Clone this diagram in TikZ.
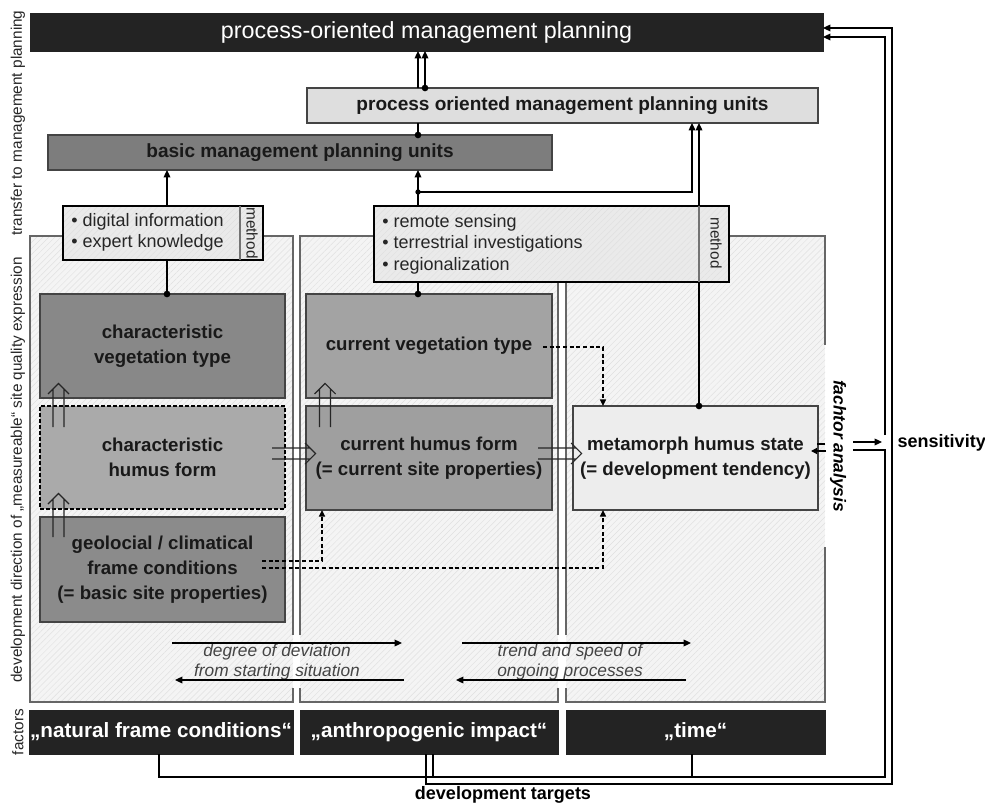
\documentclass[tikz,border=0pt]{standalone}
\usepackage{fontspec}
\setmainfont{Liberation Sans}
\usetikzlibrary{arrows.meta,patterns.meta}
\definecolor{barc}{HTML}{232323}
\definecolor{pouc}{HTML}{DEDEDE}
\definecolor{basicc}{HTML}{7D7D7D}
\definecolor{cvtc}{HTML}{888888}
\definecolor{chfc}{HTML}{AAAAAA}
\definecolor{geoc}{HTML}{8B8B8B}
\definecolor{curvc}{HTML}{A3A3A3}
\definecolor{chumc}{HTML}{9F9F9F}
\definecolor{mhsc}{HTML}{EDEDED}
\definecolor{panelc}{HTML}{F4F4F4}
\definecolor{methc}{HTML}{EAEAEA}
\definecolor{edgec}{HTML}{444444}
\definecolor{itc}{HTML}{444444}
\newcommand\rectnode[7]{\node[#2, minimum width={(#5-#3)*0.75pt}, minimum height={(#6-#4)*0.75pt}] (#1) at ({(#3+#5)/2},{(#4+#6)/2}) {#7};}
\begin{document}
\begin{tikzpicture}[x=0.75pt,y=-0.75pt,
  box/.style={draw=edgec, line width=0.8pt, inner sep=0pt, outer sep=0pt, align=center, text=black!90, font=\fontsize{14}{18.75}\selectfont\bfseries},
  bar/.style={fill=barc, draw=barc, inner sep=0pt, outer sep=0pt, text=white, font=\fontsize{15.5}{18}\selectfont\bfseries},
  hatch/.style={preaction={fill=#1}, pattern={Lines[angle=45,distance=3.2pt,line width=0.35pt]}, pattern color=black!12},
  methbox/.style={box, hatch=methc, draw=black, line width=1.3pt},
  panelline/.style={draw=black!60, line width=0.8pt},
  con/.style={line width=0.9pt, draw=black},
  arr/.style={con, -{Triangle[length=5.5pt,width=5pt]}},
  dashcon/.style={line width=1.1pt, dash pattern=on 3pt off 2pt, -{Triangle[length=5pt,width=4.5pt]}},
  methtxt/.style={font=\fontsize{13.5}{16.2}\selectfont, align=left, text=black!85, anchor=west, inner sep=0pt},
  vlabel/.style={font=\fontsize{11.5}{13}\selectfont, rotate=90, text=black!85},
  methlabel/.style={font=\fontsize{11.5}{13}\selectfont, rotate=-90, text=black!85, inner sep=0pt},
  itx/.style={font=\fontsize{13}{15}\selectfont\itshape, text=itc},
  lbl/.style={font=\fontsize{13.5}{16}\selectfont\bfseries},
  hollowarrow/.pic={\draw[line width=0.8pt, draw=black!85] (-5.5,0) -- (-5.5,-38) (5.5,0) -- (5.5,-38) (-10.5,-33) -- (0,-43.5) -- (10.5,-33);}
]
\useasboundingbox (0,0) rectangle (985,805);

% panels
\path[hatch=panelc] (30,236) rectangle (293,702);
\path[hatch=panelc] (300,236) rectangle (558,702);
\path[hatch=panelc] (566,236) rectangle (825,702);
\draw[panelline] (293,635) -- (293,236) -- (30,236) -- (30,702) -- (293,702) -- (293,688);
\draw[panelline] (300,635) -- (300,236) -- (558,236) -- (558,635);
\draw[panelline] (300,688) -- (300,702) -- (558,702) -- (558,688);
\draw[panelline] (566,635) -- (566,236) -- (825,236) -- (825,345);
\draw[panelline] (825,547) -- (825,702) -- (566,702) -- (566,688);

% side labels
\node[vlabel] (l1) at (18,123) {transfer to management planning};
\node[vlabel] (l2) at (18,470) {development direction of „measureable“ site quality expression};
\node[vlabel] (l3) at (18,732) {factors};

% top boxes
\rectnode{top}{bar, font=\fontsize{17.5}{20}\selectfont}{30}{13}{823}{51}{process-oriented management planning}
\rectnode{pou}{box, fill=pouc, font=\fontsize{14.3}{17}\selectfont\bfseries}{307}{88}{818}{123}{process oriented management planning units}
\rectnode{basic}{box, fill=basicc, font=\fontsize{14.3}{17}\selectfont\bfseries}{48}{135}{552}{170}{basic management planning units}

% method boxes
\rectnode{lmeth}{methbox}{63}{206}{263}{260}{}
\rectnode{mmeth}{methbox}{374}{206}{729}{282}{}
\coordinate (xS1) at (240,0);
\draw[black!55, line width=1pt] (lmeth.north -| xS1) -- (lmeth.south -| xS1);
\node[methtxt] (lmt) at (71,232.5) {\textbullet\ digital information\\\textbullet\ expert knowledge};
\node[methlabel] (lml) at (252,233) {method};
\node[methtxt] (mmt) at (382,244) {\textbullet\ remote sensing\\\textbullet\ terrestrial investigations\\\textbullet\ regionalization};
\node[methlabel] (mml) at (716,243) {method};

% content boxes
\rectnode{cvt}{box, fill=cvtc}{40}{294}{285}{398}{characteristic\\vegetation type}
\rectnode{chf}{box, fill=chfc, draw=black, line width=1.1pt, dash pattern=on 3pt off 1.5pt}{40}{406}{285}{509}{characteristic\\humus form}
\rectnode{geo}{box, fill=geoc}{40}{517}{285}{622}{geolocial / climatical\\frame conditions\\(= basic site properties)}
\rectnode{curv}{box, fill=curvc}{306}{294}{552}{398}{current vegetation type}
\rectnode{chum}{box, fill=chumc}{306}{406}{552}{510}{current humus form\\(= current site properties)}
\rectnode{mhs}{box, fill=mhsc}{573}{406}{818}{510}{metamorph humus state\\(= development tendency)}

% factor bars
\rectnode{natural}{bar}{29}{710}{293}{754}{„natural frame conditions“}
\rectnode{anthro}{bar}{300}{710}{558}{754}{„anthropogenic impact“}
\rectnode{time}{bar}{566}{710}{825}{754}{„time“}

% column / row helpers
\coordinate (xA) at (167,0);
\coordinate (xB) at (418,0);
\coordinate (xB2) at (425,0);
\coordinate (xC) at (692,0);
\coordinate (xD) at (699,0);
\coordinate (xM) at (603,0);
\coordinate (xG) at (322,0);
\coordinate (xL) at (159,0);
\coordinate (xAn1) at (426,0);
\coordinate (xAn2) at (433,0);
\coordinate (xT) at (692,0);
\coordinate (xI) at (885,0);
\coordinate (xO) at (892,0);
\coordinate (yIn) at (0,777);
\coordinate (yOut) at (0,784);
\coordinate (yTI) at (0,37);
\coordinate (yTO) at (0,28);

% upper connectors
\draw[arr] (pou.north -| xB) -- (top.south -| xB);
\draw[arr] (pou.north -| xB2) -- (top.south -| xB2);
\fill (pou.north -| xB2) circle (2.5pt);
\draw[con] (basic.north -| xB) -- (pou.south -| xB);
\fill (basic.north -| xB) circle (2.5pt);
\draw[arr] (mmeth.north -| xB) -- (basic.south -| xB);
\coordinate (br) at (418,192);
\fill (br) circle (2pt);
\draw[arr] (br) -| (pou.south -| xC);
\draw[arr] (mhs.north -| xD) -- (pou.south -| xD);
\draw[black!55, line width=1pt] (mmeth.north -| xD) -- (mmeth.south -| xD);
\fill (mhs.north -| xD) circle (2.5pt);
\draw[arr] (lmeth.north -| xA) -- (basic.south -| xA);
\draw[con] (lmeth.south -| xA) -- (cvt.north -| xA);
\fill (cvt.north -| xA) circle (2.5pt);
\draw[con] (mmeth.south -| xB) -- (curv.north -| xB);
\fill (curv.north -| xB) circle (2.5pt);

% hollow double arrows
\pic at (58.5,427) {hollowarrow};
\pic at (58.5,537) {hollowarrow};
\pic at (325,427) {hollowarrow};
\pic[rotate=-90] at (272,453.5) {hollowarrow};
\pic[rotate=-90] at (538,453.5) {hollowarrow};

% dashed influences
\coordinate (cvtEnd) at (543,347);
\draw[dashcon] (cvtEnd) -| (mhs.north -| xM);
\coordinate (geoA) at (262,561);
\draw[dashcon] (geoA) -| (chum.south -| xG);
\coordinate (geoB) at (262,568);
\draw[dashcon] (geoB) -| (mhs.south -| xM);

% deviation / trend arrows
\coordinate (d1a) at (172,643); \coordinate (d1b) at (402,643);
\coordinate (d2a) at (404,680); \coordinate (d2b) at (175,680);
\coordinate (t1a) at (462,643); \coordinate (t1b) at (691,643);
\coordinate (t2a) at (686,680); \coordinate (t2b) at (456,680);
\node[itx] (dt1) at (277,652) {degree of deviation};
\node[itx] (dt2) at (277,672) {from starting situation};
\node[itx] (tt1) at (570,652) {trend and speed of};
\node[itx] (tt2) at (570,672) {ongoing processes};
\draw[arr] (d1a) -- (d1b);
\draw[arr] (d2a) -- (d2b);
\draw[arr] (t1a) -- (t1b);
\draw[arr] (t2a) -- (t2b);

% factor analysis / sensitivity
\node[font=\fontsize{13}{15}\selectfont\bfseries\itshape, rotate=-90] (fa) at (838,446) {fachtor analysis};
\coordinate (fa1) at (825,444); \coordinate (fa1e) at (817,444);
\coordinate (fa2) at (826,451); \coordinate (fa2e) at (811,451);
\draw[con] (fa1) -- (fa1e);
\draw[con, -{Triangle[length=4.5pt,width=4.5pt]}] (fa2) -- (fa2e);
\node[lbl, anchor=west] (sens) at (893,443) {sensitivity};
\coordinate (sU) at (853,442); \coordinate (sUe) at (882,442);
\coordinate (sL) at (853,450);
\coordinate (gapTop) at (885,435);
\draw[arr] (sU) -- (sUe);

% feedback loops
\draw[con] (natural.south -| xL) |- (xI |- yIn) |- (sL);
\draw[con] (anthro.south -| xAn2) -- (xAn2 |- yIn);
\draw[con] (time.south -| xT) -- (xT |- yIn);
\draw[arr] (gapTop) |- (top.east |- yTI);
\draw[arr] (anthro.south -| xAn1) |- (xO |- yOut) |- (top.east |- yTO);
\node[lbl] (dtg) at (503,795) {development targets};
\end{tikzpicture}
\end{document}
